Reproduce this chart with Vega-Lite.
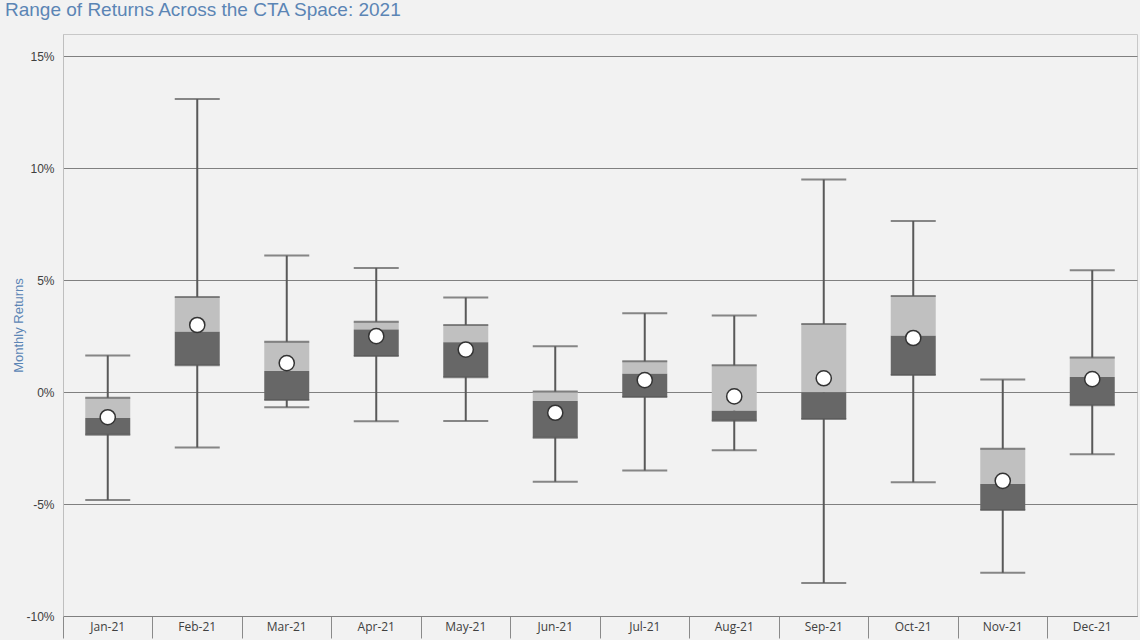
{
  "$schema": "https://vega.github.io/schema/vega-lite/v6.json",
  "width": 1074,
  "height": 582,
  "autosize": {"type": "none"},
  "padding": {"left": 63, "top": 34, "right": 3, "bottom": 24},
  "background": "#f2f2f2",
  "title": {
    "text": "Range of Returns Across the CTA Space: 2021",
    "anchor": "start",
    "frame": "group",
    "dx": -58,
    "offset": -1,
    "baseline": "alphabetic",
    "font": "Liberation Sans",
    "fontSize": 19,
    "fontWeight": "normal",
    "color": "#5b85b5"
  },
  "config": {
    "view": {"stroke": "#c8c8c8", "fill": "#f2f2f2"}
  },
  "data": {
    "values": [
      {"month": "Jan-21", "min": -4.82, "q1": -1.9, "median": -1.15, "q3": -0.25, "max": 1.64, "mean": -1.12},
      {"month": "Feb-21", "min": -2.47, "q1": 1.2, "median": 2.7, "q3": 4.25, "max": 13.1, "mean": 3.0},
      {"month": "Mar-21", "min": -0.67, "q1": -0.35, "median": 0.94, "q3": 2.25, "max": 6.1, "mean": 1.3},
      {"month": "Apr-21", "min": -1.3, "q1": 1.62, "median": 2.8, "q3": 3.14, "max": 5.55, "mean": 2.5},
      {"month": "May-21", "min": -1.29, "q1": 0.67, "median": 2.23, "q3": 3.0, "max": 4.23, "mean": 1.9},
      {"month": "Jun-21", "min": -4.0, "q1": -2.04, "median": -0.39, "q3": 0.03, "max": 2.05, "mean": -0.92},
      {"month": "Jul-21", "min": -3.5, "q1": -0.22, "median": 0.82, "q3": 1.38, "max": 3.53, "mean": 0.54},
      {"month": "Aug-21", "min": -2.6, "q1": -1.28, "median": -0.83, "q3": 1.2, "max": 3.42, "mean": -0.19},
      {"month": "Sep-21", "min": -8.53, "q1": -1.2, "median": 0.0, "q3": 3.05, "max": 9.5, "mean": 0.62},
      {"month": "Oct-21", "min": -4.02, "q1": 0.77, "median": 2.52, "q3": 4.29, "max": 7.65, "mean": 2.42},
      {"month": "Nov-21", "min": -8.07, "q1": -5.27, "median": -4.1, "q3": -2.53, "max": 0.56, "mean": -3.96},
      {"month": "Dec-21", "min": -2.77, "q1": -0.58, "median": 0.68, "q3": 1.55, "max": 5.45, "mean": 0.58}
    ]
  },
  "encoding": {
    "x": {
      "field": "month",
      "type": "ordinal",
      "sort": null,
      "scale": {"paddingInner": 0, "paddingOuter": 0},
      "axis": {
        "title": null,
        "bandPosition": 0,
        "tickSize": 22,
        "tickColor": "#8a8a8a",
        "tickWidth": 1,
        "labelPadding": -17,
        "labelAngle": 0,
        "labelFont": "Open Sans",
        "labelFontSize": 12,
        "labelColor": "#404040",
        "domain": true,
        "domainColor": "#808080",
        "grid": false
      }
    }
  },
  "layer": [
    {
      "mark": {"type": "rule", "color": "#595959", "strokeWidth": 2},
      "encoding": {
        "y": {
          "field": "min",
          "type": "quantitative",
          "scale": {"domain": [-10, 16], "nice": false, "zero": false},
          "axis": {
            "title": "Monthly Returns",
            "titleFont": "Liberation Sans",
            "titleFontSize": 13,
            "titleFontWeight": "normal",
            "titleColor": "#5b85b5",
            "titlePadding": 0,
            "values": [-10, -5, 0, 5, 10, 15],
            "labelExpr": "datum.value + '%'",
            "labelFont": "Liberation Sans",
            "labelFontSize": 12,
            "labelColor": "#404040",
            "labelPadding": 9,
            "ticks": false,
            "domainColor": "#bfbfbf",
            "grid": true,
            "gridColor": "#808080",
            "gridWidth": 1
          }
        },
        "y2": {"field": "max"}
      }
    },
    {
      "mark": {"type": "bar", "color": "#c0c0c0", "size": 45},
      "encoding": {
        "y": {"field": "median", "type": "quantitative"},
        "y2": {"field": "q3"}
      }
    },
    {
      "mark": {"type": "bar", "color": "#676767", "size": 45},
      "encoding": {
        "y": {"field": "q1", "type": "quantitative"},
        "y2": {"field": "median"}
      }
    },
    {
      "mark": {"type": "tick", "color": "#595959", "size": 45, "thickness": 2, "orient": "horizontal"},
      "encoding": {"y": {"field": "q3", "type": "quantitative"}}
    },
    {
      "mark": {"type": "tick", "color": "#595959", "size": 45, "thickness": 2, "orient": "horizontal"},
      "encoding": {"y": {"field": "q1", "type": "quantitative"}}
    },
    {
      "mark": {"type": "tick", "color": "#595959", "size": 45, "thickness": 2, "orient": "horizontal"},
      "encoding": {"y": {"field": "min", "type": "quantitative"}}
    },
    {
      "mark": {"type": "tick", "color": "#595959", "size": 45, "thickness": 2, "orient": "horizontal"},
      "encoding": {"y": {"field": "max", "type": "quantitative"}}
    },
    {
      "mark": {"type": "point", "shape": "circle", "filled": true, "fill": "#ffffff", "stroke": "#333333", "strokeWidth": 1.5, "size": 230, "opacity": 1},
      "encoding": {"y": {"field": "mean", "type": "quantitative"}}
    }
  ]
}
